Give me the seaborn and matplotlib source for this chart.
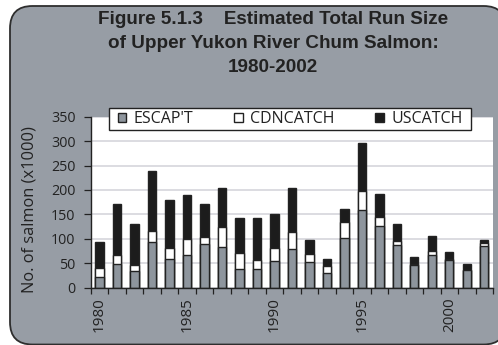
import matplotlib
matplotlib.use("Agg")
import matplotlib.pyplot as plt
from matplotlib.patches import FancyBboxPatch, Patch, Rectangle
import seaborn as sns
import pandas as pd

# Upper Yukon River chum salmon run components (thousands of fish)
years = list(range(1980, 2003))
escapement = [22.5, 48, 33.5, 94, 58.5, 66, 90, 83, 37.5, 37.5, 55, 80,
              52, 30.5, 101, 160, 125.5, 87, 47, 66, 57, 36, 86]
cdn_catch = [17, 19.5, 13, 22, 22.5, 33, 13, 40.5, 33, 19, 27, 33.5,
             16.5, 14, 33.5, 38.5, 19, 8.5, 1.5, 9.5, 1, 0.5, 6]
us_catch = [54.5, 104.5, 83, 122.5, 99, 90.5, 69, 80, 73, 87, 69, 90,
            29.5, 14, 26.5, 97, 48, 34, 14.5, 29.5, 15, 12.5, 5.5]
legend_labels = ["ESCAP'T", "CDNCATCH", "USCATCH"]
title_lines = ["Figure 5.1.3    Estimated Total Run Size",
               "of Upper Yukon River Chum Salmon:",
               "1980-2002"]
y_label = "No. of salmon (x1000)"
year_labels = [1980, 1985, 1990, 1995, 2000]

df = pd.DataFrame({"year": years, "esc": escapement, "cdn": cdn_catch, "us": us_catch})
df["esc_cdn"] = df["esc"] + df["cdn"]
df["total"] = df["esc_cdn"] + df["us"]

panel_gray = "#979da5"
bar_gray = "#8e959d"
dark = "#1c1c1c"
ink = "#222222"

sns.set_theme(style="white")
plt.rcParams["font.family"] = ["Open Sans", "DejaVu Sans"]

W, H = 498, 345
fig = plt.figure(figsize=(W / 100, H / 100), dpi=100)
fig.patch.set_facecolor("white")

# Rounded gray panel behind everything
panel = FancyBboxPatch((10 / W, 0.5 / H), (506 - 10) / W, (339 - 0.5) / H,
                       boxstyle="round,pad=0,rounding_size=0.045",
                       transform=fig.transFigure, facecolor=panel_gray,
                       edgecolor="#2e2e2e", linewidth=1.3, zorder=-5,
                       mutation_aspect=W / H)
fig.patches.append(panel)

ax = fig.add_axes([90.7 / W, (H - 287.7) / H, (493 - 90.7) / W, 171 / H])
ax.set_facecolor("white")

bar_kw = dict(width=0.48, edgecolor=ink, linewidth=1.0, saturation=1, ax=ax,
              order=years)
sns.barplot(data=df, x="year", y="total", color=dark, **bar_kw)
sns.barplot(data=df, x="year", y="esc_cdn", color="white", **bar_kw)
sns.barplot(data=df, x="year", y="esc", color=bar_gray, **bar_kw)

ax.set_ylim(0, 350)
ax.set_yticks(range(0, 351, 50))
ax.set_xlim(-0.5, len(years) - 0.5)
ax.set_xticks([years.index(y) for y in year_labels])
ax.set_xticklabels([str(y) for y in year_labels], rotation=90, fontsize=11,
                   color=ink)
ax.set_xticks([i - 0.5 for i in range(len(years) + 1)], minor=True)
ax.tick_params(axis="x", which="major", length=0, pad=7)
ax.tick_params(axis="x", which="minor", length=4, width=0.9, color=ink,
               direction="out", bottom=True)
ax.tick_params(axis="y", length=5, width=0.9, color=ink, direction="out",
               left=True, labelsize=10.3, labelcolor=ink, pad=6)

ax.yaxis.grid(True, color="#d6d6dc", linewidth=1.2)
ax.set_axisbelow(True)
for side in ("top", "right"):
    ax.spines[side].set_visible(False)
for side in ("left", "bottom"):
    ax.spines[side].set_color(ink)
    ax.spines[side].set_linewidth(1.0)

ax.set_xlabel("")
ax.set_ylabel(y_label, fontsize=11.8, color=ink)
ax.yaxis.set_label_coords(-0.132, 0.455)

# Title block
for i, line in enumerate(title_lines):
    fig.text(273 / W, 1 - (20 + 24 * i) / H, line, ha="center", va="center",
             fontsize=13.6, fontweight="bold", color=ink,
             family=["Liberation Sans", "DejaVu Sans"])

# Legend: white framed box with three entries
box = Rectangle((109 / W, 1 - 130 / H), (471 - 109) / W, 22 / H,
                transform=fig.transFigure, facecolor="white", edgecolor=ink,
                linewidth=1.0, zorder=4)
fig.patches.append(box)
handles = [Patch(facecolor=bar_gray, edgecolor=ink, linewidth=1.0),
           Patch(facecolor="white", edgecolor=ink, linewidth=1.0),
           Patch(facecolor=dark, edgecolor=ink, linewidth=1.0)]
leg = fig.legend(handles, legend_labels, ncol=3, loc="center",
                 bbox_to_anchor=(290 / W, 1 - 119 / H), frameon=False,
                 fontsize=11.5, handlelength=0.55, handleheight=0.55,
                 handletextpad=0.45, columnspacing=2.55, borderpad=0.2,
                 borderaxespad=0)
leg.set_zorder(5)
for t in leg.get_texts():
    t.set_color(ink)

fig.savefig("out.png", dpi=100, facecolor="white")
